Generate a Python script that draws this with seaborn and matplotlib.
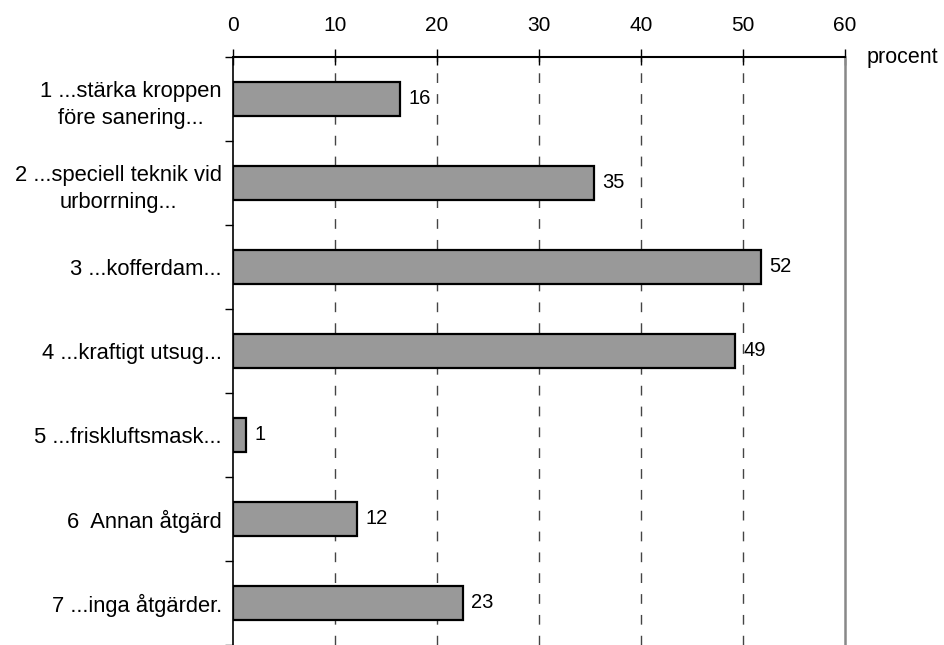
import matplotlib
matplotlib.use("Agg")
import matplotlib.pyplot as plt
import seaborn as sns
import pandas as pd

categories = [
    "1 ...stärka kroppen\nföre sanering...",
    "2 ...speciell teknik vid\nurborrning...",
    "3 ...kofferdam...",
    "4 ...kraftigt utsug...",
    "5 ...friskluftsmask...",
    "6  Annan åtgärd",
    "7 ...inga åtgärder.",
]
values = [16.4, 35.4, 51.8, 49.2, 1.3, 12.2, 22.5]
value_labels = ["16", "35", "52", "49", "1", "12", "23"]
x_ticks = [0, 10, 20, 30, 40, 50, 60]
x_label = "procent"

sns.set_theme(style="white")
plt.rcParams["font.family"] = ["Liberation Sans", "DejaVu Sans"]
plt.rcParams["text.color"] = "black"
plt.rcParams["xtick.color"] = "black"
plt.rcParams["ytick.color"] = "black"
plt.rcParams["xtick.labelcolor"] = "black"
plt.rcParams["ytick.labelcolor"] = "black"

df = pd.DataFrame({"cat": categories, "val": values})

fig = plt.figure(figsize=(9.44, 6.45), dpi=100)
ax = fig.add_axes([233 / 944, 0.0, (845 - 233) / 944, 1 - 57 / 645])

sns.barplot(data=df, x="val", y="cat", orient="h", color="#999999",
            edgecolor="black", linewidth=1.6, width=0.41, saturation=1, ax=ax)

ax.set_xlim(0, 60)
ax.set_ylim(6.5, -0.5)
ax.set_xticks(x_ticks)
ax.set_xticklabels([str(t) for t in x_ticks])
ax.xaxis.tick_top()
ax.tick_params(axis="x", direction="inout", length=12, width=1, color="black",
               labelcolor="black", labelsize=15, pad=10, top=True, bottom=False)
ax.set_xlabel("")
ax.set_ylabel("")

# y labels at category centres, short ticks at category boundaries
ax.set_yticks([i for i in range(len(categories))])
ax.set_yticklabels(categories, fontsize=15.8, multialignment="center",
                   linespacing=1.4, color="black")
ax.tick_params(axis="y", which="major", length=0, pad=8)
ax.set_yticks([i - 0.5 for i in range(len(categories) + 1)], minor=True)
ax.tick_params(axis="y", which="minor", direction="out", length=6, width=1,
               color="black", left=True)

for x in x_ticks[1:-1]:
    ax.axvline(x, color="#444444", linewidth=1, linestyle=(0, (7, 8)), zorder=0)

ax.spines["bottom"].set_visible(False)
ax.spines["left"].set_color("black")
ax.spines["left"].set_linewidth(1.2)
ax.spines["top"].set_color("black")
ax.spines["top"].set_linewidth(1.5)
ax.spines["right"].set_color("#888888")
ax.spines["right"].set_linewidth(1.8)

ax.bar_label(ax.containers[0], labels=value_labels, padding=6, fontsize=14.5,
             color="black")

ax.annotate(x_label, xy=(1, 1), xycoords="axes fraction", xytext=(22, 0),
            textcoords="offset pixels", ha="left", va="center", fontsize=15.5,
            color="black")

fig.savefig("out.png", dpi=100)
